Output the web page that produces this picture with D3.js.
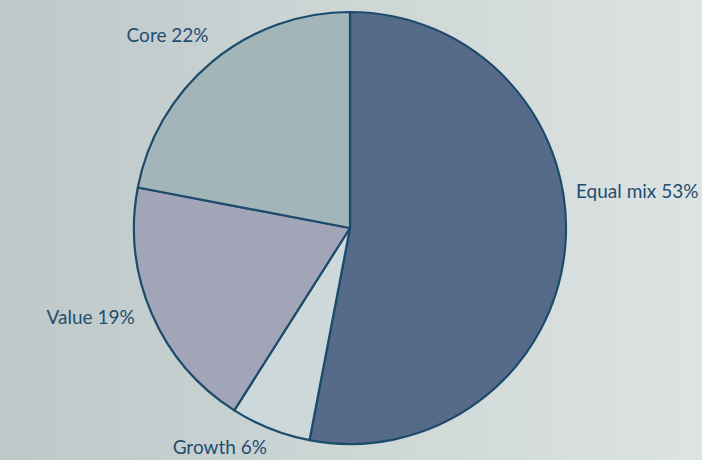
<!DOCTYPE html>
<html><head><meta charset="utf-8">
<script src="https://cdn.jsdelivr.net/npm/d3@7"></script>
<style>html,body{margin:0;padding:0;overflow:hidden;}svg{display:block;}</style>
</head><body>
<svg id="c" width="702" height="460"></svg>
<script>
const categories = ["Equal mix", "Growth", "Value", "Core"];
const values = [53, 6, 19, 22];
const labels = ["Equal mix 53%", "Growth 6%", "Value 19%", "Core 22%"];
const colors = ["#566b8a", "#cdd8da", "#a2a5b8", "#a2b5b8"];

// label placement (polar, degrees clockwise from top, radius) and anchor
const labelLayout = [
  {a: 80.8, r: 229, anchor: "start"},
  {a: 210.7, r: 255, anchor: "middle"},
  {a: 247.5, r: 233, anchor: "end"},
  {a: 316.5, r: 265, anchor: "middle"}
];

const W = 702, H = 460, cx = 350, cy = 228, R = 216;
const svg = d3.select("#c");
const defs = svg.append("defs");
const grad = defs.append("linearGradient").attr("id","bg").attr("x1","0").attr("x2","1").attr("y1","0").attr("y2","0");
grad.append("stop").attr("offset","0").attr("stop-color","#bec8c8");
grad.append("stop").attr("offset","1").attr("stop-color","#dde3e3");
svg.append("rect").attr("width",W).attr("height",H).attr("fill","url(#bg)");

const data = categories.map((c,i)=>({cat:c, value:values[i], label:labels[i], color:colors[i], lay:labelLayout[i]}));
const pie = d3.pie().value(d=>d.value).sort(null);
const arc = d3.arc().innerRadius(0).outerRadius(R);
const g = svg.append("g").attr("transform",`translate(${cx},${cy})`);
g.selectAll("path").data(pie(data)).join("path")
  .attr("d", arc)
  .attr("fill", d=>d.data.color)
  .attr("stroke", "#1c4b6b")
  .attr("stroke-width", 2.2)
  .attr("stroke-linejoin","round");

g.selectAll("text").data(data).join("text")
  .attr("x", d=>d.lay.r*Math.sin(d.lay.a*Math.PI/180))
  .attr("y", d=>-d.lay.r*Math.cos(d.lay.a*Math.PI/180))
  .attr("dy", "0.35em")
  .attr("text-anchor", d=>d.lay.anchor)
  .attr("font-family", "Lato, 'Open Sans', sans-serif")
  .attr("font-size", 19)
  .attr("fill", "#1f4e70")
  .text(d=>d.label);
</script>
</body></html>
